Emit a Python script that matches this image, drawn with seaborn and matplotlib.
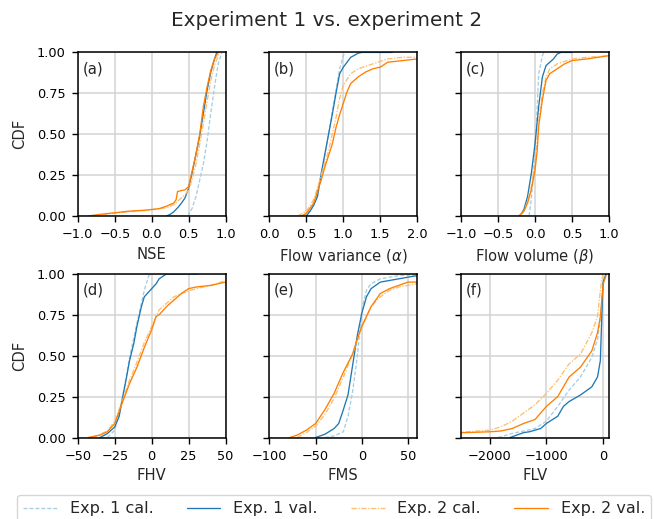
import matplotlib
matplotlib.use("Agg")
import matplotlib.pyplot as plt
import seaborn as sns
import pandas as pd

series_names = ["Exp. 1 cal.", "Exp. 1 val.", "Exp. 2 cal.", "Exp. 2 val."]
panel_letters = ["(a)", "(b)", "(c)", "(d)", "(e)", "(f)"]
x_labels = ["NSE", r"Flow variance ($\alpha$)", r"Flow volume ($\beta$)", "FHV", "FMS", "FLV"]

# (a) NSE
a_e1c_x = [0.49, 0.55, 0.60, 0.65, 0.70, 0.75, 0.80, 0.85, 0.90, 0.95]
a_e1c_y = [0.00, 0.05, 0.12, 0.22, 0.32, 0.46, 0.63, 0.79, 0.93, 1.00]
a_e1v_x = [0.20, 0.25, 0.30, 0.35, 0.40, 0.45, 0.50, 0.55, 0.60, 0.65, 0.70, 0.75, 0.80, 0.85, 0.88]
a_e1v_y = [0.00, 0.01, 0.026, 0.05, 0.077, 0.11, 0.17, 0.27, 0.38, 0.49, 0.63, 0.77, 0.88, 0.96, 1.00]
a_e2c_x = [-0.80, -0.60, -0.40, -0.20, 0.00, 0.20, 0.30, 0.40, 0.45, 0.50, 0.55, 0.60, 0.65, 0.70, 0.75, 0.80, 0.85, 0.90, 0.93]
a_e2c_y = [0.00, 0.012, 0.022, 0.03, 0.038, 0.05, 0.07, 0.11, 0.13, 0.16, 0.23, 0.32, 0.44, 0.57, 0.70, 0.83, 0.92, 0.98, 1.00]
a_e2v_x = [-0.86, -0.70, -0.50, -0.30, -0.10, 0.00, 0.10, 0.20, 0.30, 0.33, 0.35, 0.40, 0.45, 0.50, 0.55, 0.60, 0.65, 0.70, 0.75, 0.80, 0.85, 0.90]
a_e2v_y = [0.00, 0.01, 0.02, 0.03, 0.035, 0.04, 0.045, 0.06, 0.08, 0.10, 0.15, 0.155, 0.16, 0.18, 0.28, 0.38, 0.50, 0.67, 0.79, 0.89, 0.96, 1.00]

# (b) flow variance
b_e1c_x = [0.45, 0.55, 0.60, 0.65, 0.70, 0.75, 0.80, 0.85, 0.90, 0.95, 1.00, 1.03]
b_e1c_y = [0.00, 0.03, 0.07, 0.13, 0.25, 0.37, 0.50, 0.64, 0.77, 0.90, 0.98, 1.00]
b_e1v_x = [0.50, 0.55, 0.60, 0.65, 0.70, 0.75, 0.80, 0.85, 0.90, 0.95, 1.00, 1.05, 1.10, 1.20, 1.25, 1.66]
b_e1v_y = [0.00, 0.03, 0.067, 0.12, 0.26, 0.38, 0.50, 0.62, 0.75, 0.87, 0.91, 0.94, 0.97, 0.995, 1.00, 1.00]
b_e2c_x = [0.38, 0.50, 0.60, 0.70, 0.80, 0.90, 0.95, 1.00, 1.10, 1.20, 1.40, 1.60, 1.80, 2.00, 2.50]
b_e2c_y = [0.00, 0.03, 0.10, 0.25, 0.40, 0.60, 0.72, 0.80, 0.87, 0.90, 0.93, 0.96, 0.97, 0.97, 1.00]
b_e2v_x = [0.43, 0.50, 0.60, 0.70, 0.75, 0.80, 0.85, 0.90, 0.95, 1.00, 1.05, 1.10, 1.20, 1.30, 1.40, 1.50, 1.60, 1.80, 2.00, 2.50]
b_e2v_y = [0.00, 0.016, 0.08, 0.22, 0.30, 0.37, 0.44, 0.54, 0.62, 0.69, 0.76, 0.81, 0.85, 0.88, 0.90, 0.91, 0.94, 0.95, 0.96, 1.00]

# (c) flow volume
c_e1c_x = [-0.08, -0.05, 0.00, 0.03, 0.05, 0.10, 0.12]
c_e1c_y = [0.00, 0.10, 0.40, 0.67, 0.87, 0.98, 1.00]
c_e1v_x = [-0.20, -0.15, -0.10, -0.05, 0.00, 0.05, 0.10, 0.15, 0.20, 0.25, 0.30, 0.35, 0.50]
c_e1v_y = [0.00, 0.04, 0.12, 0.26, 0.44, 0.67, 0.85, 0.92, 0.94, 0.96, 0.99, 1.00, 1.00]
c_e2c_x = [-0.20, -0.15, -0.10, -0.05, 0.00, 0.05, 0.10, 0.15, 0.20, 0.30, 0.50, 0.70, 1.00, 1.50]
c_e2c_y = [0.00, 0.03, 0.09, 0.18, 0.32, 0.58, 0.75, 0.85, 0.90, 0.93, 0.96, 0.97, 0.98, 1.00]
c_e2v_x = [-0.22, -0.15, -0.10, -0.05, 0.00, 0.03, 0.05, 0.10, 0.15, 0.20, 0.30, 0.40, 0.50, 0.70, 1.00, 1.50]
c_e2v_y = [0.00, 0.03, 0.08, 0.16, 0.28, 0.40, 0.55, 0.71, 0.83, 0.87, 0.90, 0.93, 0.95, 0.96, 0.98, 1.00]

# (d) FHV
d_e1c_x = [-30, -25, -20, -15, -10, -5, -2, 0]
d_e1c_y = [0.00, 0.045, 0.23, 0.49, 0.70, 0.90, 0.99, 1.00]
d_e1v_x = [-35, -30, -25, -22, -20, -17, -15, -12, -10, -7, -5, 0, 3, 5, 10, 31]
d_e1v_y = [0.00, 0.024, 0.065, 0.13, 0.23, 0.37, 0.47, 0.58, 0.68, 0.80, 0.86, 0.91, 0.94, 0.97, 1.00, 1.00]
d_e2c_x = [-40, -30, -25, -20, -15, -10, -5, 0, 5, 10, 15, 20, 30, 40, 50, 80]
d_e2c_y = [0.00, 0.04, 0.10, 0.22, 0.35, 0.46, 0.58, 0.68, 0.78, 0.82, 0.86, 0.88, 0.91, 0.93, 0.96, 1.00]
d_e2v_x = [-43, -35, -30, -25, -20, -15, -10, -5, 0, 3, 5, 10, 15, 20, 25, 30, 40, 50, 80]
d_e2v_y = [0.00, 0.015, 0.035, 0.086, 0.21, 0.33, 0.43, 0.55, 0.66, 0.74, 0.75, 0.80, 0.84, 0.88, 0.91, 0.92, 0.93, 0.95, 1.00]

# (e) FMS
e_e1c_x = [-40, -30, -20, -15, -10, -5, 0, 5, 10, 20, 40, 60, 100]
e_e1c_y = [0.00, 0.01, 0.035, 0.13, 0.28, 0.49, 0.78, 0.90, 0.94, 0.97, 0.99, 0.995, 1.00]
e_e1v_x = [-50, -40, -30, -25, -20, -15, -10, -5, 0, 5, 10, 20, 30, 40, 50, 60, 100]
e_e1v_y = [0.00, 0.02, 0.055, 0.086, 0.17, 0.26, 0.44, 0.62, 0.76, 0.86, 0.91, 0.95, 0.96, 0.97, 0.98, 0.99, 1.00]
e_e2c_x = [-70, -60, -50, -40, -30, -20, -10, 0, 10, 20, 30, 40, 50, 60, 100]
e_e2c_y = [0.00, 0.03, 0.07, 0.14, 0.24, 0.37, 0.51, 0.67, 0.80, 0.86, 0.90, 0.92, 0.93, 0.94, 1.00]
e_e2v_x = [-78, -70, -60, -50, -40, -30, -20, -10, -5, 0, 5, 10, 20, 30, 40, 50, 60, 100]
e_e2v_y = [0.00, 0.015, 0.045, 0.086, 0.17, 0.27, 0.40, 0.51, 0.60, 0.68, 0.74, 0.80, 0.88, 0.91, 0.93, 0.95, 0.95, 1.00]

# (f) FLV
f_e1c_x = [-1850, -1600, -1200, -1000, -800, -600, -400, -200, -100, -50, 0, 50]
f_e1c_y = [0.00, 0.025, 0.055, 0.10, 0.19, 0.29, 0.37, 0.49, 0.60, 0.72, 0.95, 1.00]
f_e1v_x = [-1640, -1400, -1300, -1100, -1000, -800, -700, -600, -400, -200, -100, -50, -30, -10, 0, 50]
f_e1v_y = [0.00, 0.03, 0.035, 0.055, 0.086, 0.13, 0.19, 0.22, 0.26, 0.31, 0.37, 0.47, 0.68, 0.88, 0.95, 1.00]
f_e2c_x = [-5000, -2600, -2000, -1800, -1600, -1400, -1200, -1000, -800, -600, -400, -200, -100, -30, 0]
f_e2c_y = [0.00, 0.03, 0.045, 0.065, 0.10, 0.15, 0.20, 0.27, 0.35, 0.45, 0.51, 0.64, 0.74, 0.96, 1.00]
f_e2v_x = [-5000, -2600, -2000, -1800, -1600, -1400, -1200, -1000, -800, -600, -400, -200, -100, -50, 0, 50]
f_e2v_y = [0.00, 0.028, 0.035, 0.04, 0.055, 0.086, 0.11, 0.19, 0.25, 0.37, 0.43, 0.53, 0.64, 0.74, 0.94, 0.99]

panel_data = [
    [(a_e1c_x, a_e1c_y), (a_e1v_x, a_e1v_y), (a_e2c_x, a_e2c_y), (a_e2v_x, a_e2v_y)],
    [(b_e1c_x, b_e1c_y), (b_e1v_x, b_e1v_y), (b_e2c_x, b_e2c_y), (b_e2v_x, b_e2v_y)],
    [(c_e1c_x, c_e1c_y), (c_e1v_x, c_e1v_y), (c_e2c_x, c_e2c_y), (c_e2v_x, c_e2v_y)],
    [(d_e1c_x, d_e1c_y), (d_e1v_x, d_e1v_y), (d_e2c_x, d_e2c_y), (d_e2v_x, d_e2v_y)],
    [(e_e1c_x, e_e1c_y), (e_e1v_x, e_e1v_y), (e_e2c_x, e_e2c_y), (e_e2v_x, e_e2v_y)],
    [(f_e1c_x, f_e1c_y), (f_e1v_x, f_e1v_y), (f_e2c_x, f_e2c_y), (f_e2v_x, f_e2v_y)],
]

x_limits = [(-1, 1), (0, 2), (-1, 1), (-50, 50), (-100, 60), (-2500, 100)]
x_ticks = [[-1, -0.5, 0, 0.5, 1], [0, 0.5, 1, 1.5, 2], [-1, -0.5, 0, 0.5, 1],
           [-50, -25, 0, 25, 50], [-100, -50, 0, 50], [-2000, -1000, 0]]
x_ticklabels = [["−1.0", "−0.5", "0.0", "0.5", "1.0"], ["0.0", "0.5", "1.0", "1.5", "2.0"],
                ["−1.0", "−0.5", "0.0", "0.5", "1.0"], ["−50", "−25", "0", "25", "50"],
                ["−100", "−50", "0", "50"], ["−2000", "−1000", "0"]]
y_ticks = [0, 0.25, 0.5, 0.75, 1.0]
y_ticklabels = ["0.00", "0.25", "0.50", "0.75", "1.00"]

# ---------------- styling ----------------
sns.set_style("ticks")
plt.rcParams["font.family"] = ["DejaVu Sans"]
pal = sns.color_palette("Paired")
colors = [pal[0], pal[1], pal[6], pal[7]]
styles = [(0, (3, 1.5)), "-", (0, (4, 1.2, 1, 1.2)), "-"]

fig, axes = plt.subplots(2, 3, figsize=(6.54, 5.19), dpi=100, sharey=True)
fig.subplots_adjust(left=0.119, right=0.931, top=0.899, bottom=0.157, wspace=0.297, hspace=0.354)

for i, ax in enumerate(axes.flat):
    for j, (xs, ys) in enumerate(panel_data[i]):
        df = pd.DataFrame({"x": xs, "cdf": ys})
        sns.lineplot(data=df, x="x", y="cdf", ax=ax, estimator=None, sort=False,
                     color=colors[j], linestyle=styles[j], linewidth=0.95,
                     label=series_names[j] if i == 0 else None, legend=False)
    ax.set_xlim(*x_limits[i])
    ax.set_ylim(0, 1)
    ax.set_xticks(x_ticks[i])
    ax.set_xticklabels(x_ticklabels[i])
    ax.set_yticks(y_ticks)
    ax.set_yticklabels(y_ticklabels)
    ax.grid(True, color="#d3d3d3", linewidth=1.1)
    ax.set_axisbelow(True)
    ax.tick_params(labelsize=9.3, length=4.2, width=1.0, pad=4.5, colors="black")
    for s in ax.spines.values():
        s.set_visible(True)
        s.set_color("black")
        s.set_linewidth(1.1)
    ax.set_xlabel(x_labels[i], fontsize=10.6, labelpad=4)
    ax.set_ylabel("CDF" if i % 3 == 0 else "", fontsize=10.6, labelpad=7)
    ax.text(0.03, 0.945, panel_letters[i], transform=ax.transAxes, fontsize=10.7,
            va="top", ha="left")

handles, labels = axes.flat[0].get_legend_handles_labels()
fig.legend(handles, labels, loc="upper center", ncol=4, mode="expand",
           bbox_to_anchor=(0.026, -0.2, 0.970, 0.2465), borderaxespad=0, fontsize=11.5,
           frameon=True, edgecolor="#cccccc", handlelength=2.1)
fig.suptitle("Experiment 1 vs. experiment 2", fontsize=14.4, y=0.979)

fig.savefig("out.png", dpi=100)
